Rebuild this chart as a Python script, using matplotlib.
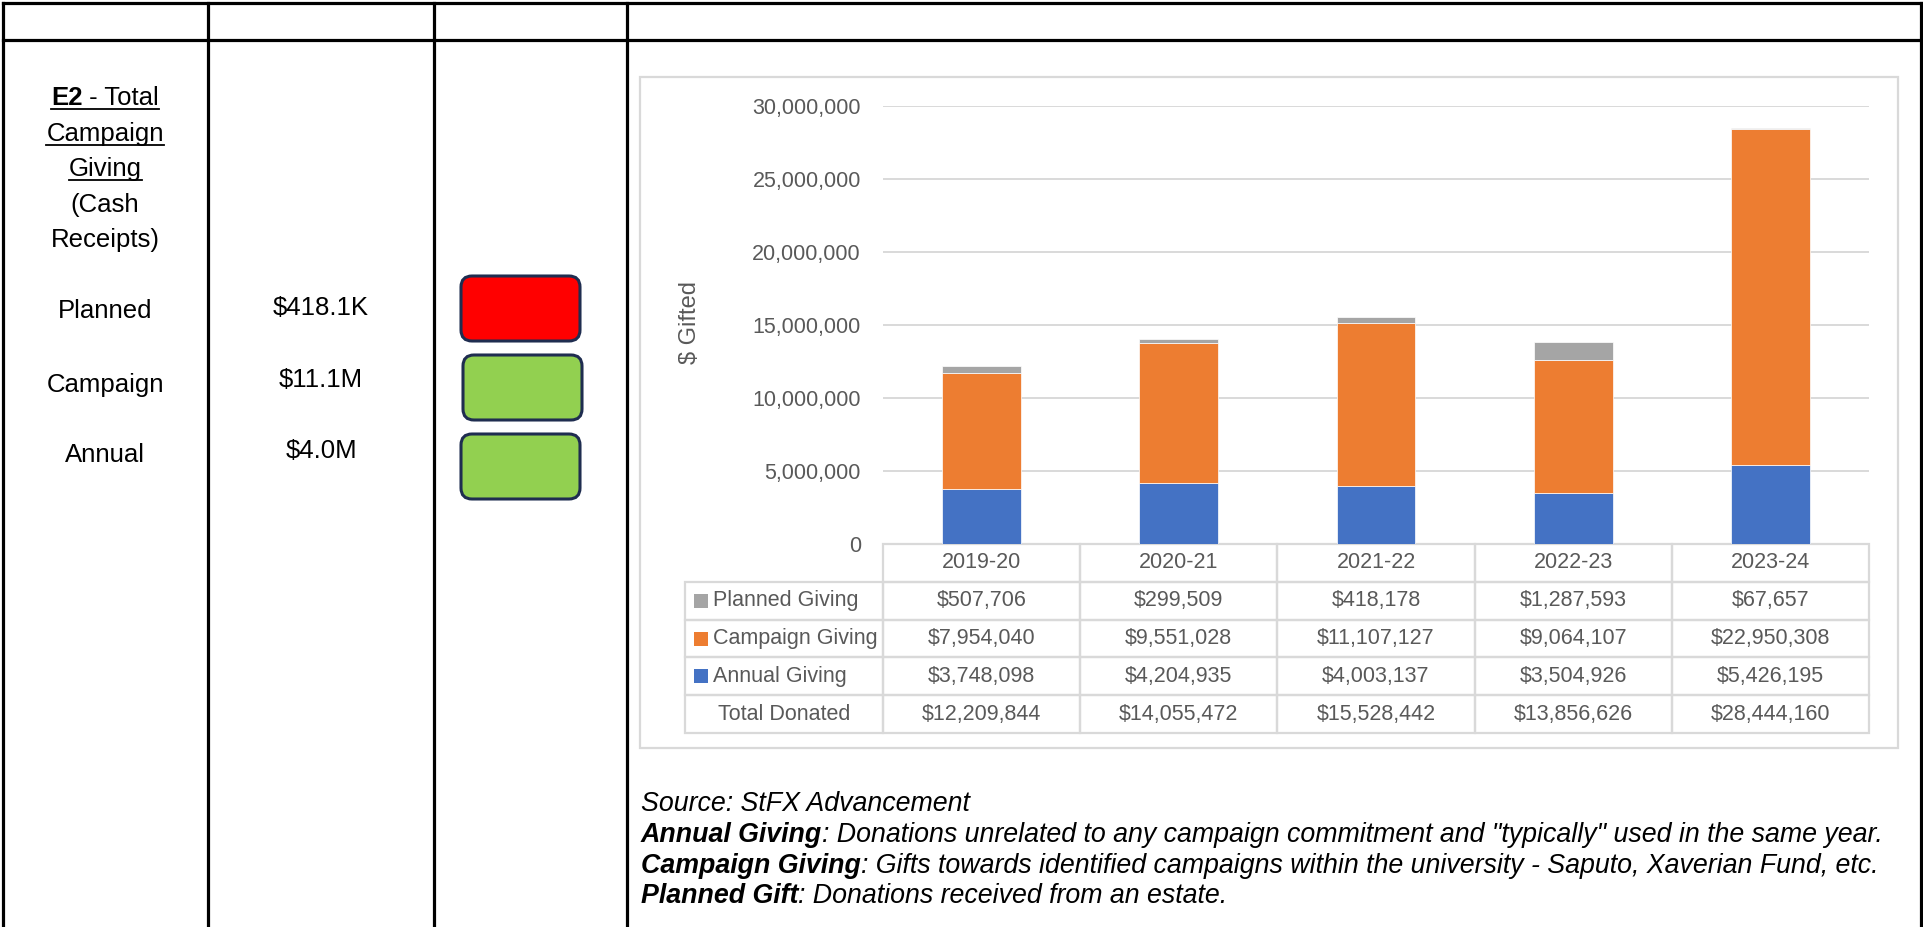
import numpy as np
import matplotlib.pyplot as plt
from matplotlib.patches import Rectangle, FancyBboxPatch
import matplotlib.transforms as mtransforms

W, H = 1923, 927

# chart data
years = ['2019-20', '2020-21', '2021-22', '2022-23', '2023-24']
annual = [3748098, 4204935, 4003137, 3504926, 5426195]
campaign = [7954040, 9551028, 11107127, 9064107, 22950308]
planned = [507706, 299509, 418178, 1287593, 67657]
total = [12209844, 14055472, 15528442, 13856626, 28444160]
row_names = ['Planned Giving', 'Campaign Giving', 'Annual Giving', 'Total Donated']
row_colors = ['#A5A5A5', '#ED7D31', '#4472C4', None]

# left part of the table
title_lines = ['Campaign', 'Giving', '(Cash', 'Receipts)']
status_labels = ['Planned', 'Campaign', 'Annual']
status_values = ['$418.1K', '$11.1M', '$4.0M']
status_colors = ['#FF0000', '#92D050', '#92D050']

notes = [
    [('Source: StFX Advancement', 'normal')],
    [('Annual Giving', 'bold'), (': Donations unrelated to any campaign commitment and "typically" used in the same year.', 'normal')],
    [('Campaign Giving', 'bold'), (': Gifts towards identified campaigns within the university - Saputo, Xaverian Fund, etc.', 'normal')],
    [('Planned Gift', 'bold'), (': Donations received from an estate.', 'normal')],
]

plt.rcParams['font.family'] = ['Liberation Sans', 'DejaVu Sans']
gray = '#595959'
light = '#d9d9d9'

fig = plt.figure(figsize=(W / 100, H / 100), dpi=100)
r = fig.canvas.get_renderer()

# overlay in pixel coords (y down)
ov = fig.add_axes([0, 0, 1, 1], zorder=0)
ov.set_xlim(0, W)
ov.set_ylim(H, 0)
ov.axis('off')

# black table lines
lw_b = 2.3
for yy in [3, 40]:
    ov.plot([3, 1921], [yy, yy], color='black', lw=lw_b, solid_capstyle='projecting')
for xx in [3, 207.5, 434, 626.5, 1921]:
    ov.plot([xx, xx], [3, H + 5], color='black', lw=lw_b, solid_capstyle='projecting')


def width_of(s, **kw):
    t = ov.text(0, 0, s, **kw)
    w = t.get_window_extent(r).width
    t.remove()
    return w


def centered_runs(cx, base, parts, size, underline=False):
    ws = [width_of(s, fontsize=size, weight=wt) for s, wt in parts]
    x = cx - sum(ws) / 2
    x0 = x
    for (s, wt), w in zip(parts, ws):
        ov.text(x, base, s, fontsize=size, weight=wt, va='baseline', ha='left')
        x += w
    if underline:
        ov.plot([x0, x], [base + 3.5, base + 3.5], color='black', lw=1.3)


size_l = 18.5
centered_runs(105, 105, [('E2', 'bold'), (' - Total', 'normal')], size_l, underline=True)
bases = [141, 176, 212, 247]
for i, txt in enumerate(title_lines):
    centered_runs(105, bases[i], [(txt, 'normal')], size_l, underline=(i < 2))

label_base = [318, 392, 462]
value_base = [315, 387, 458]
boxes = [(461, 276), (463, 355), (461, 434)]
for i in range(3):
    ov.text(105, label_base[i], status_labels[i], fontsize=size_l, ha='center', va='baseline')
    ov.text(321, value_base[i], status_values[i], fontsize=size_l, ha='center', va='baseline')
    bx, by = boxes[i]
    ov.add_patch(FancyBboxPatch((bx, by), 119, 65, boxstyle='round,pad=0,rounding_size=11',
                                facecolor=status_colors[i], edgecolor='#1F2D50', lw=2.2))

# chart area border
ov.add_patch(Rectangle((640, 77), 1898 - 640, 748 - 77, facecolor='none', edgecolor=light, lw=1.6))

# chart axes
top_px, bot_px, left_px, right_px = 105.6, 544, 883, 1869
ax = fig.add_axes([left_px / W, 1 - bot_px / H, (right_px - left_px) / W, (bot_px - top_px) / H], zorder=1)
ax.patch.set_alpha(0)
x = np.arange(len(years))
bw = 0.4
ax.bar(x, annual, bw, color=row_colors[2], edgecolor='white', lw=0.5, zorder=3)
ax.bar(x, campaign, bw, bottom=annual, color=row_colors[1], edgecolor='white', lw=0.5, zorder=3)
ax.bar(x, planned, bw, bottom=np.array(annual) + np.array(campaign), color=row_colors[0],
       edgecolor='white', lw=0.5, zorder=3)
ax.set_xlim(-0.5, len(years) - 0.5)
ax.set_ylim(0, 30000000)
ax.set_yticks(np.arange(0, 30000001, 5000000))
ax.yaxis.set_major_formatter(plt.FuncFormatter(lambda v, p: f'{v:,.0f}'))
ax.tick_params(axis='y', length=0, pad=16, labelsize=15.5, labelcolor=gray)
ax.set_xticks([])
for s in ax.spines.values():
    s.set_visible(False)
ax.yaxis.grid(True, color=light, lw=1.4)
ax.set_axisbelow(True)
ax.set_ylabel('$ Gifted', fontsize=17, color=gray)
ax.yaxis.label.set_va('center')
ax.yaxis.set_label_coords((690.5 - left_px) / (right_px - left_px), (bot_px - 322.5) / (bot_px - top_px))

# data table under the axis
ax_h = bot_px - top_px
row_h = 37.8 / ax_h
cat_px = (right_px - left_px) / len(years)
trans = mtransforms.blended_transform_factory(ax.transData, ax.transAxes)
tsize = 15.5
label_left = -0.5 - 198 / cat_px

for i, yr in enumerate(years):
    ax.add_patch(Rectangle((i - 0.5, -row_h), 1, row_h, transform=trans, facecolor='none',
                           edgecolor=light, lw=1.6, clip_on=False))
    ax.text(i, -row_h / 2, yr, transform=trans, ha='center', va='center', fontsize=tsize, color=gray)

table_rows = [planned, campaign, annual, total]
for j, (name, vals) in enumerate(zip(row_names, table_rows)):
    y0 = -row_h * (j + 2)
    yc = y0 + row_h / 2
    ax.add_patch(Rectangle((label_left, y0), -0.5 - label_left, row_h, transform=trans, facecolor='none',
                           edgecolor=light, lw=1.6, clip_on=False))
    if row_colors[j]:
        k = 14
        ax.add_patch(Rectangle((label_left + 9 / cat_px, yc - k / 2 / ax_h), k / cat_px, k / ax_h,
                               transform=trans, facecolor=row_colors[j], edgecolor='none', clip_on=False))
        ax.text(label_left + 28 / cat_px, yc, name, transform=trans, ha='left', va='center',
                fontsize=tsize, color=gray)
    else:
        ax.text((label_left - 0.5) / 2, yc, name, transform=trans, ha='center', va='center',
                fontsize=tsize, color=gray)
    for i, v in enumerate(vals):
        ax.add_patch(Rectangle((i - 0.5, y0), 1, row_h, transform=trans, facecolor='none',
                               edgecolor=light, lw=1.6, clip_on=False))
        ax.text(i, yc, f'${v:,}', transform=trans, ha='center', va='center', fontsize=tsize, color=gray)

# footnotes, sized to fit the width of the longest line
probe = sum(width_of(s, fontsize=16, style='italic', weight=wt) for s, wt in notes[1])
nsize = 16 * (1885 - 641) / probe
note_base = [811, 842, 873, 903]
for line, base in zip(notes, note_base):
    xx = 641
    for s, wt in line:
        t = ov.text(xx, base, s, fontsize=nsize, style='italic', weight=wt, va='baseline', ha='left')
        xx += t.get_window_extent(r).width

fig.savefig('out.png', dpi=100)
